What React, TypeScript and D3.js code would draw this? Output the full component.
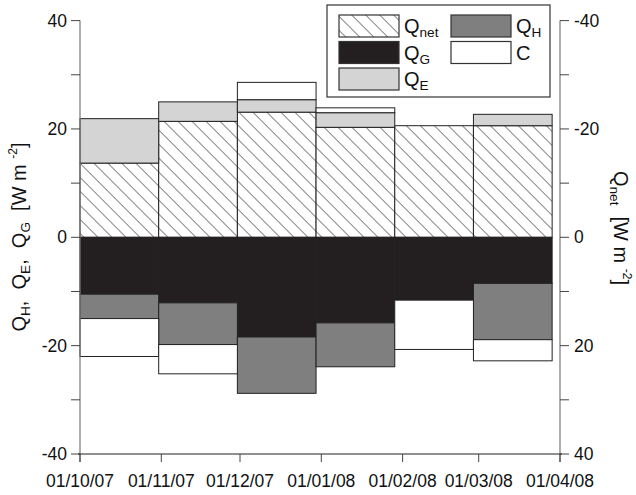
import React from "react";
import * as d3 from "d3";

// month bars (start dates) and their flux components, W m-2
const months = ["2007-10-01", "2007-11-01", "2007-12-01", "2008-01-01", "2008-02-01", "2008-03-01"];
const qNet = [13.7, 21.4, 23.1, 20.3, 20.6, 20.6];
const qE = [8.2, 3.6, 2.3, 2.7, 0, 2.1];
const qG = [-10.5, -12.1, -18.4, -15.8, -11.6, -8.5];
const qH = [-4.5, -7.7, -10.4, -8.1, 0, -10.4];
const cRes = [-7.0, -5.4, 3.2, 0.9, -9.1, -3.9];

const tickDates = ["2007-10-01", "2007-11-01", "2007-12-01", "2008-01-01", "2008-02-01", "2008-03-01", "2008-04-01"];
const tickLabels = ["01/10/07", "01/11/07", "01/12/07", "01/01/08", "01/02/08", "01/03/08", "01/04/08"];

const keys = ["Qnet", "QG", "QE", "QH", "C"];
const fills: Record<string, string> = {
  Qnet: "url(#hatch)",
  QG: "#231f20",
  QE: "#d4d4d4",
  QH: "#7f7f7f",
  C: "#ffffff",
};

const W = 636;
const H = 495;
const M = { left: 80, right: 560, top: 20.6, bottom: 454 };
const FONT = "'Liberation Sans', Arial, sans-serif";

const parse = d3.timeParse("%Y-%m-%d");

// "Q" with a subscript, baseline shifted so following text stays put
const Q = ({ sub, size }: { sub: string; size: number }) => (
  <>
    <tspan>Q</tspan>
    <tspan fontSize={size * 0.68} baselineShift={-size * 0.22}>{sub}</tspan>
  </>
);

export default function App() {
  const x = d3
    .scaleTime()
    .domain([parse(tickDates[0])!, parse(tickDates[tickDates.length - 1])!])
    .range([M.left, M.right]);
  const y = d3.scaleLinear().domain([-40, 40]).range([M.bottom, M.top]);
  const yR = d3.scaleLinear().domain([40, -40]).range([M.bottom, M.top]);

  const rows = months.map((m, i) => ({
    date: parse(m)!,
    Qnet: qNet[i],
    QG: qG[i],
    QE: qE[i],
    QH: qH[i],
    C: cRes[i],
  }));
  const series = d3
    .stack<any>()
    .keys(keys)
    .offset(d3.stackOffsetDiverging)(rows);

  // bars are 30 days wide, laid side by side from the first month
  const start = parse(months[0])!;
  const bx0 = (i: number) => x(d3.timeDay.offset(start, 30 * i));
  const bx1 = (i: number) => x(d3.timeDay.offset(start, 30 * (i + 1)));

  const ticks = y.ticks(8);

  const legendItems = [
    { key: "Qnet", sub: "net", col: 0, row: 0 },
    { key: "QG", sub: "G", col: 0, row: 1 },
    { key: "QE", sub: "E", col: 0, row: 2 },
    { key: "QH", sub: "H", col: 1, row: 0 },
    { key: "C", sub: "", col: 1, row: 1 },
  ];

  return (
    <svg width={W} height={H} style={{ position: "absolute", left: 0, top: 0, fontFamily: FONT }}>
      <defs>
        <pattern id="hatch" patternUnits="userSpaceOnUse" width={9.9} height={9.9} patternTransform="rotate(-45)">
          <rect width={9.9} height={9.9} fill="#fff" />
          <line x1={0} y1={0} x2={0} y2={9.9} stroke="#222" strokeWidth={1.1} />
        </pattern>
      </defs>

      {/* bars */}
      {series.map((s) =>
        s.map((d, i) => {
          const top = y(Math.max(d[0], d[1]));
          const bot = y(Math.min(d[0], d[1]));
          if (bot - top < 0.1) return null;
          return (
            <rect
              key={s.key + i}
              x={bx0(i)}
              y={top}
              width={bx1(i) - bx0(i)}
              height={bot - top}
              fill={fills[s.key]}
              stroke="#222"
              strokeWidth={1}
            />
          );
        })
      )}

      {/* left axis */}
      <line x1={M.left} x2={M.left} y1={M.top} y2={M.bottom + 8} stroke="#777" strokeWidth={1.2} />
      {ticks.map((t) => (
        <g key={"l" + t}>
          <line x1={M.left - 9} x2={M.left} y1={y(t)} y2={y(t)} stroke="#444" />
          {t % 20 === 0 && (
            <text x={M.left - 13} y={y(t)} dy="0.35em" textAnchor="end" fontSize={17.5} fill="#111">
              {t}
            </text>
          )}
        </g>
      ))}

      {/* right axis (Qnet, inverted) */}
      <line x1={M.right} x2={M.right} y1={M.top} y2={M.bottom + 8} stroke="#777" strokeWidth={1.2} />
      {yR.ticks(8).map((t) => (
        <g key={"r" + t}>
          <line x1={M.right} x2={M.right + 9} y1={yR(t)} y2={yR(t)} stroke="#444" />
          {t % 20 === 0 && (
            <text x={M.right + 14} y={yR(t)} dy="0.35em" textAnchor="start" fontSize={17.5} fill="#111">
              {t}
            </text>
          )}
        </g>
      ))}

      {/* bottom axis */}
      <line x1={M.left - 2} x2={M.right + 2} y1={M.bottom} y2={M.bottom} stroke="#222" strokeWidth={1.2} />
      {tickDates.map((d, i) => {
        const tx = x(parse(d)!);
        return (
          <g key={d}>
            <line x1={tx} x2={tx} y1={M.bottom} y2={M.bottom + 8} stroke="#444" />
            <text x={tx} y={487} textAnchor="middle" fontSize={17.5} fill="#111">
              {tickLabels[i]}
            </text>
          </g>
        );
      })}

      {/* axis titles */}
      <text transform="translate(26,237) rotate(-90)" textAnchor="middle" fontSize={20} fill="#111" style={{ whiteSpace: "pre" }}>
        <Q sub="H" size={20} />
        <tspan>{",  "}</tspan>
        <Q sub="E" size={20} />
        <tspan>{",  "}</tspan>
        <Q sub="G" size={20} />
        <tspan>{"  [W m "}</tspan>
        <tspan fontSize={12} baselineShift={9}>-2</tspan>
        <tspan>]</tspan>
      </text>
      <text transform="translate(614,228) rotate(90)" textAnchor="middle" fontSize={20} fill="#111" style={{ whiteSpace: "pre" }}>
        <Q sub="net" size={20} />
        <tspan>{"  [W m "}</tspan>
        <tspan fontSize={12} baselineShift={9}>-2</tspan>
        <tspan>]</tspan>
      </text>

      {/* legend */}
      <rect x={327} y={5} width={223} height={92} fill="#fff" stroke="#333" strokeWidth={1.2} />
      {legendItems.map((it) => {
        const sx = it.col === 0 ? 339 : 451;
        const sy = 15 + it.row * 26.5;
        return (
          <g key={it.key}>
            <rect x={sx} y={sy} width={60} height={22} fill={fills[it.key]} stroke="#333" strokeWidth={1.2} />
            <text x={sx + 65} y={sy + 18} fontSize={20} fill="#111">
              {it.sub ? <Q sub={it.sub} size={20} /> : "C"}
            </text>
          </g>
        );
      })}
    </svg>
  );
}
